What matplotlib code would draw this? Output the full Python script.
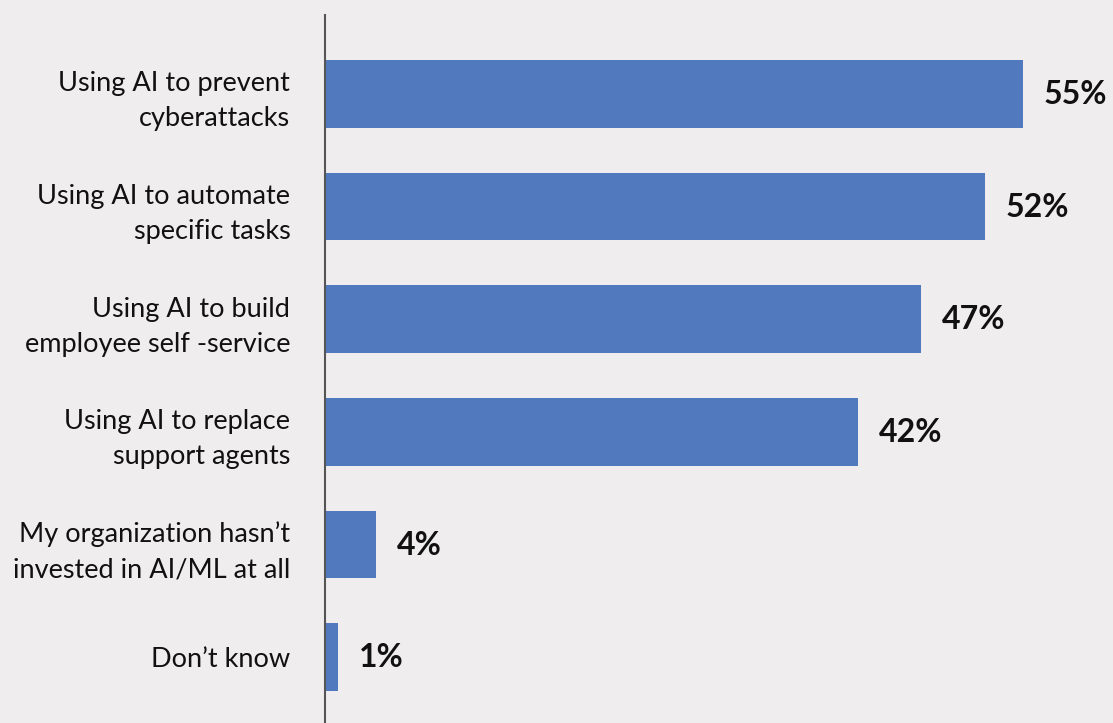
import matplotlib
matplotlib.use("Agg")
import matplotlib.pyplot as plt

categories = [
    "Using AI to prevent\ncyberattacks",
    "Using AI to automate\nspecific tasks",
    "Using AI to build\nemployee self -service",
    "Using AI to replace\nsupport agents",
    "My organization hasn\u2019t\ninvested in AI/ML at all",
    "Don\u2019t know",
]
values = [55, 52, 47, 42, 4, 1]
value_labels = ["55%", "52%", "47%", "42%", "4%", "1%"]

BG = "#EFEDEE"
BAR = "#507ABD"

W, H = 1113, 723
fig = plt.figure(figsize=(W / 100, H / 100), dpi=100, facecolor=BG)
ax = fig.add_axes([325 / W, 0, 1 - 325 / W, 708 / H], facecolor=BG)

pos = list(range(len(categories)))
ax.barh(pos, values, height=0.6, color=BAR, zorder=2)

ax.set_xlim(0, (W - 325) / 12.69)
ax.set_ylim(5.586, -0.70)

for s in ("top", "right", "bottom"):
    ax.spines[s].set_visible(False)
ax.spines["left"].set_color("#555555")
ax.spines["left"].set_linewidth(1.5)
ax.set_xticks([])
ax.set_yticks(pos)
ax.set_yticklabels(categories, fontsize=19.5, family="Lato", color="#111111",
                   linespacing=1.5)
ax.tick_params(axis="y", length=0, pad=25)

for p, v, lab in zip(pos, values, value_labels):
    ax.annotate(lab, xy=(v, p), xytext=(15, -0.5), textcoords="offset points",
                ha="left", va="center", fontsize=23, fontweight="bold",
                family="Lato", color="#111111")

fig.savefig("out.png", dpi=100, facecolor=BG)
